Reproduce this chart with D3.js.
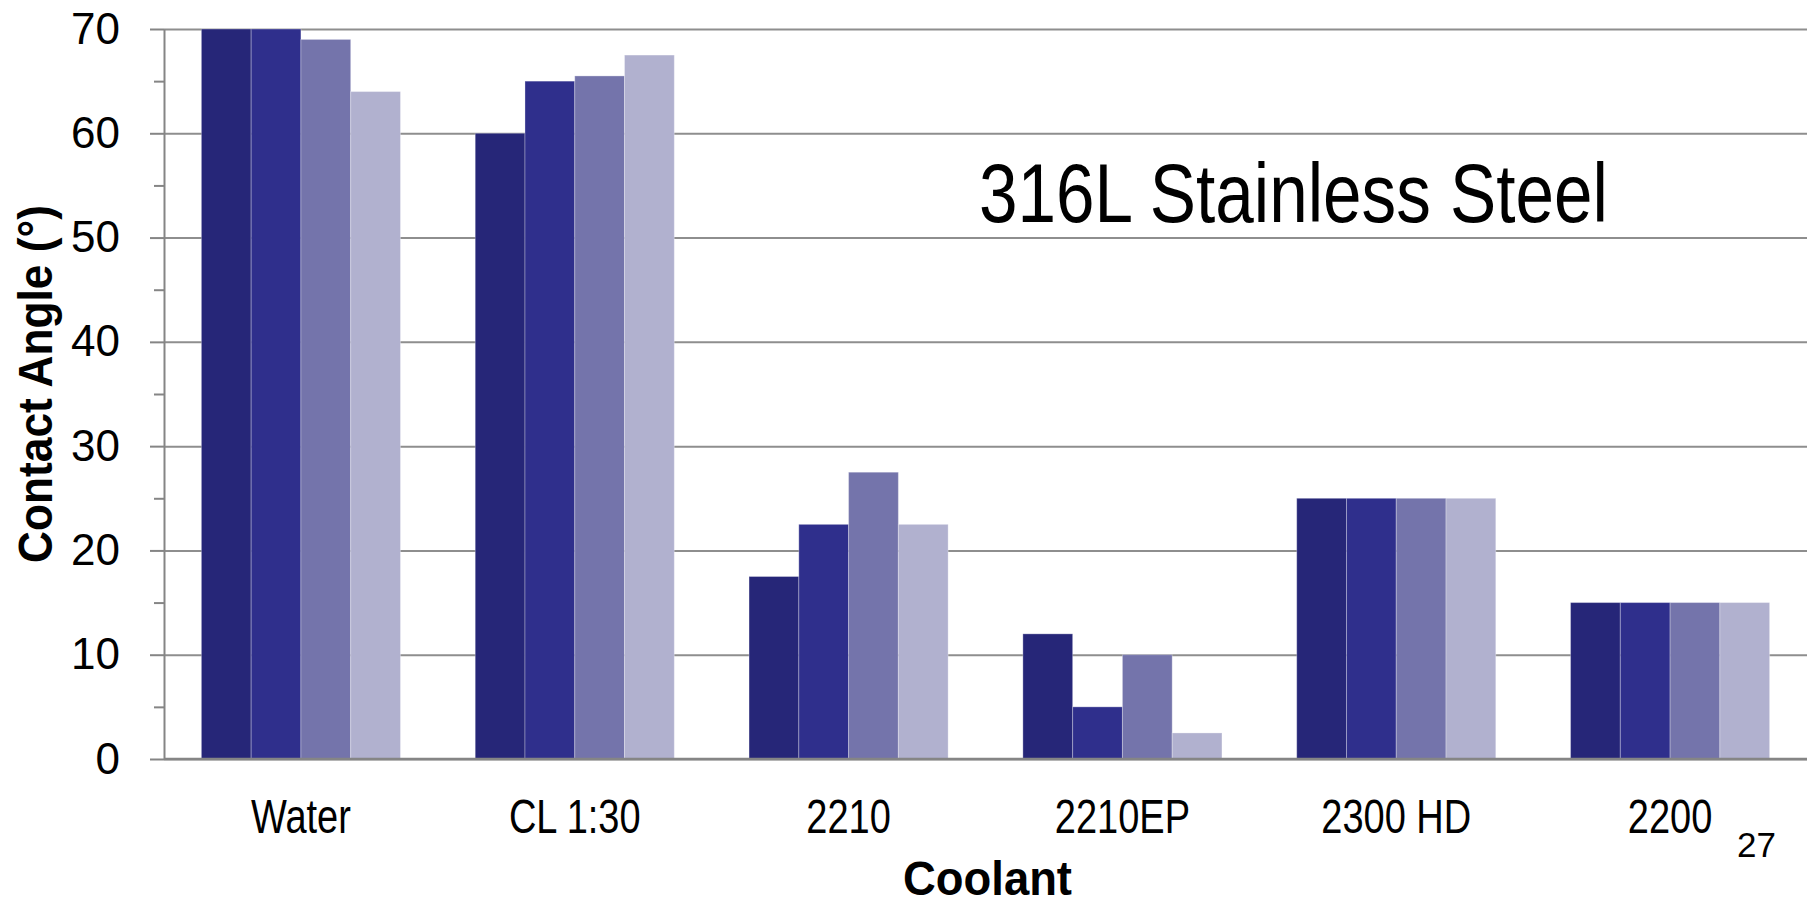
<!DOCTYPE html>
<html lang="en">
<head>
    <meta charset="UTF-8" />
    <title>Contact Angle - 316L Stainless Steel</title>
    <script src="https://d3js.org/d3.v7.min.js"></script>
    <style>
        body {
            margin: 0;
            background: #fff;
            font-family: "Liberation Sans", Arial, sans-serif;
        }
        .grid line {
            stroke: #8e8e8e;
            stroke-width: 2;
        }
        .grid path {
            display: none;
        }
        .yaxis path, .yaxis line, .minor line {
            stroke: #858585;
            stroke-width: 2;
        }
        .minor path {
            display: none;
        }
        .yaxis text {
            font-size: 44px;
            fill: #000;
        }
    </style>
</head>
<body>
    <div id="chart"></div>

    <script>
        // data
        var categories = ["Water", "CL 1:30", "2210", "2210EP", "2300 HD", "2200"];
        var seriesNames = ["Sample 1", "Sample 2", "Sample 3", "Sample 4"];
        var series1 = [70, 60, 17.5, 12, 25, 15];
        var series2 = [70, 65, 22.5, 5, 25, 15];
        var series3 = [69, 65.5, 27.5, 10, 25, 15];
        var series4 = [64, 67.5, 22.5, 2.5, 25, 15];
        var seriesColors = ["#262678", "#2f2f8c", "#7474ab", "#b1b1cf"];
        var majorTicks = [0, 10, 20, 30, 40, 50, 60, 70];
        var minorTicks = [5, 15, 25, 35, 45, 55, 65];

        function init() {
            var w = 1816;
            var h = 904;
            // plot area edges in page pixels
            var plotLeft = 164, plotRight = 1807, plotTop = 29, plotBottom = 759;

            var allSeries = [series1, series2, series3, series4];

            var svg = d3.select("#chart")
                .append("svg")
                .attr("width", w)
                .attr("height", h);

            var x0 = d3.scaleBand()
                .domain(categories)
                .range([plotLeft, plotRight])
                .paddingInner(0.273)
                .paddingOuter(0.1365);

            var x1 = d3.scaleBand()
                .domain(seriesNames)
                .range([0, x0.bandwidth()]);

            var yScale = d3.scaleLinear()
                .domain([0, 70])
                .range([plotBottom, plotTop]);

            // gridlines
            svg.append("g")
                .attr("class", "grid")
                .attr("transform", "translate(" + plotLeft + ",0)")
                .call(d3.axisLeft(yScale).tickValues(majorTicks).tickSize(-(plotRight - plotLeft)).tickFormat(""));

            // bars
            var groups = svg.selectAll(".group")
                .data(categories)
                .enter()
                .append("g")
                .attr("class", "group")
                .attr("transform", function(d) { return "translate(" + x0(d) + ",0)"; });

            groups.selectAll("rect")
                .data(function(d, i) {
                    return seriesNames.map(function(s, j) {
                        return { name: s, value: allSeries[j][i], idx: j };
                    });
                })
                .enter()
                .append("rect")
                .attr("x", function(d) { return x1(d.name); })
                .attr("y", function(d) { return yScale(d.value); })
                .attr("width", x1.bandwidth())
                .attr("height", function(d) { return yScale(0) - yScale(d.value); })
                .attr("fill", function(d) { return seriesColors[d.idx]; })
                .attr("stroke", "rgba(255,255,255,0.3)")
                .attr("stroke-width", 1);

            // minor ticks
            svg.append("g")
                .attr("class", "minor")
                .attr("transform", "translate(" + plotLeft + ",0)")
                .call(d3.axisLeft(yScale).tickValues(minorTicks).tickSize(10).tickFormat(""));

            // y axis
            var yAxis = svg.append("g")
                .attr("class", "yaxis")
                .attr("transform", "translate(" + plotLeft + ",0)")
                .call(d3.axisLeft(yScale).tickValues(majorTicks).tickSize(14).tickSizeOuter(0).tickPadding(30));
            yAxis.selectAll("text").attr("font-family", "Liberation Sans, Arial, sans-serif");

            // baseline
            svg.append("line")
                .attr("x1", plotLeft)
                .attr("x2", plotRight)
                .attr("y1", yScale(0))
                .attr("y2", yScale(0))
                .attr("stroke", "#858585")
                .attr("stroke-width", 2.5);

            // category labels (condensed)
            svg.selectAll(".catLabel")
                .data(categories)
                .enter()
                .append("text")
                .attr("class", "catLabel")
                .attr("x", function(d) { return x0(d) + x0.bandwidth() / 2; })
                .attr("y", 833)
                .attr("text-anchor", "middle")
                .style("font-size", "49px")
                .text(function(d) { return d; })
                .each(function() {
                    var len = this.getComputedTextLength();
                    d3.select(this).attr("textLength", len * 0.775).attr("lengthAdjust", "spacingAndGlyphs");
                });

            // axis titles
            svg.append("text")
                .attr("x", (plotLeft + plotRight) / 2 + 2)
                .attr("y", 895)
                .attr("text-anchor", "middle")
                .style("font-size", "49px")
                .style("font-weight", "bold")
                .attr("textLength", 169)
                .attr("lengthAdjust", "spacingAndGlyphs")
                .text("Coolant");

            svg.append("text")
                .attr("transform", "translate(52,384) rotate(-90)")
                .attr("text-anchor", "middle")
                .style("font-size", "49px")
                .style("font-weight", "bold")
                .attr("textLength", 358)
                .attr("lengthAdjust", "spacingAndGlyphs")
                .text("Contact Angle (°)");

            // chart title
            svg.append("text")
                .attr("x", 979)
                .attr("y", 222)
                .style("font-size", "84px")
                .attr("textLength", 629)
                .attr("lengthAdjust", "spacingAndGlyphs")
                .text("316L Stainless Steel");

            // slide number
            svg.append("text")
                .attr("x", 1737)
                .attr("y", 857)
                .style("font-size", "35px")
                .text("27");
        }

        init();
    </script>
</body>
</html>
